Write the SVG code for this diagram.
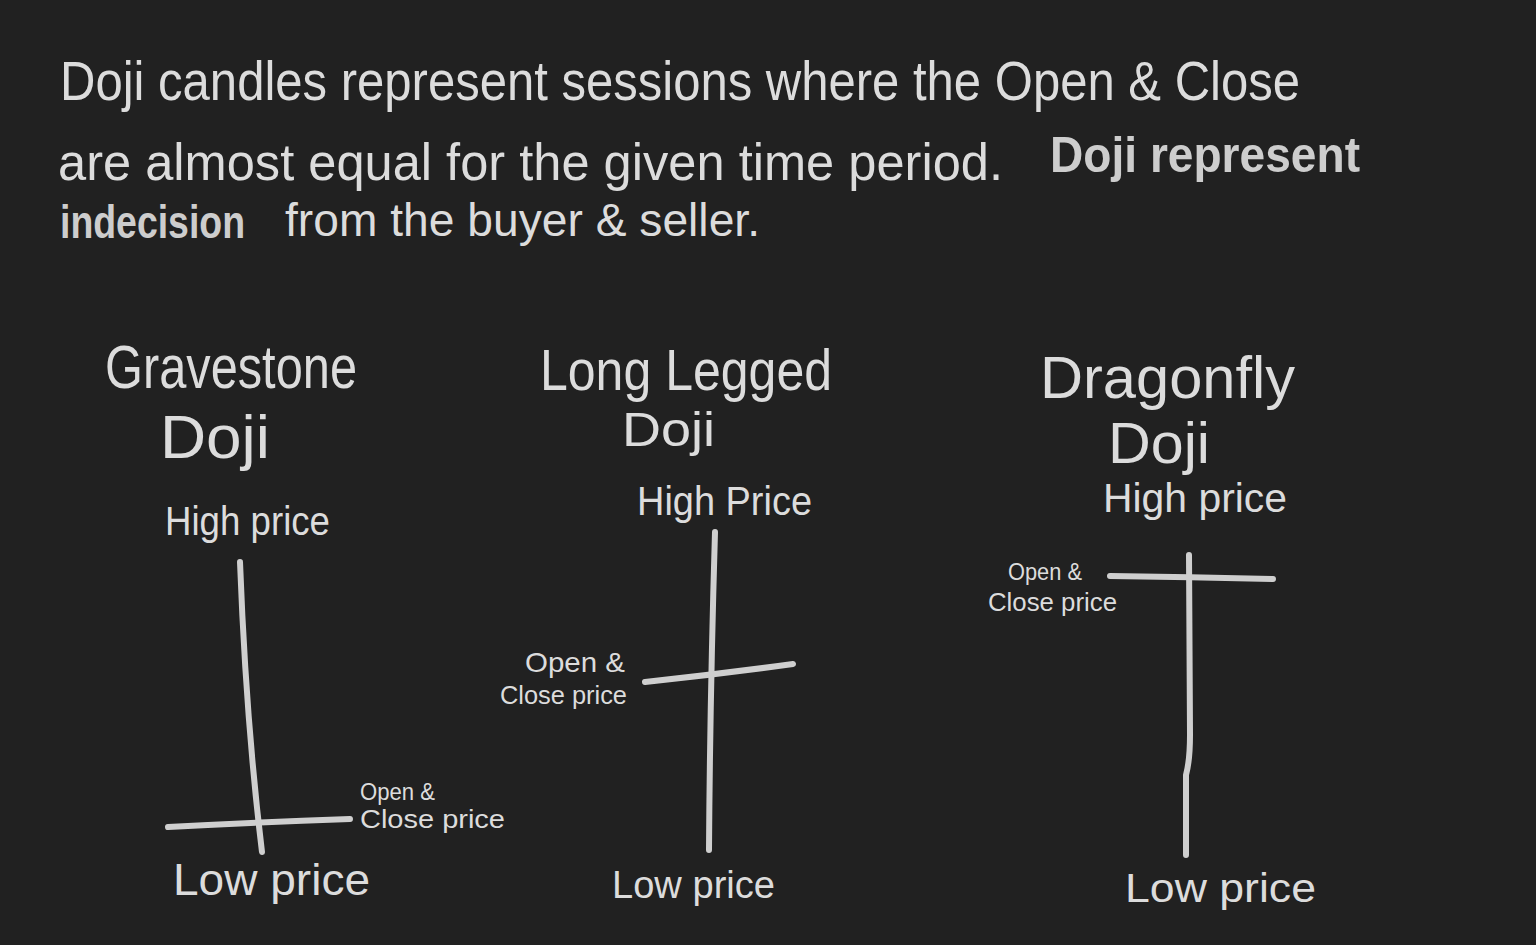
<svg xmlns="http://www.w3.org/2000/svg" width="1536" height="945" viewBox="0 0 1536 945">
<style>
text{font-family:"Liberation Sans","DejaVu Sans",sans-serif;fill:#dcdcdc;}
.b{font-weight:bold;fill:#cdcdcd;}
.ln{stroke:#cfcfcf;stroke-width:6;stroke-linecap:round;stroke-linejoin:round;fill:none;}
</style>
<rect width="1536" height="945" fill="#212121"/>
<g id="intro">
<text x="60" y="100" font-size="56" textLength="1240" lengthAdjust="spacingAndGlyphs">Doji candles represent sessions where the Open &amp; Close</text>
<text x="58" y="180" font-size="52" textLength="945" lengthAdjust="spacingAndGlyphs">are almost equal for the given time period.</text>
<text class="b" x="1050" y="172" font-size="50" textLength="310" lengthAdjust="spacingAndGlyphs">Doji represent</text>
<text class="b" x="60" y="238" font-size="46" textLength="185" lengthAdjust="spacingAndGlyphs">indecision</text>
<text x="285" y="236" font-size="46" textLength="475" lengthAdjust="spacingAndGlyphs">from the buyer &amp; seller.</text>
</g>
<g id="gravestone">
<text x="105" y="388" font-size="62" textLength="252" lengthAdjust="spacingAndGlyphs">Gravestone</text>
<text x="160" y="458" font-size="62" textLength="110" lengthAdjust="spacingAndGlyphs">Doji</text>
<text x="165" y="535" font-size="40" textLength="165" lengthAdjust="spacingAndGlyphs">High price</text>
<text x="173" y="895" font-size="44" textLength="197" lengthAdjust="spacingAndGlyphs">Low price</text>
<text x="360" y="800" font-size="24" textLength="75" lengthAdjust="spacingAndGlyphs">Open &amp;</text>
<text x="360" y="828" font-size="26" textLength="145" lengthAdjust="spacingAndGlyphs">Close price</text>
</g>
<g id="longlegged">
<text x="540" y="390" font-size="58" textLength="292" lengthAdjust="spacingAndGlyphs">Long Legged</text>
<text x="622" y="446" font-size="48" textLength="93" lengthAdjust="spacingAndGlyphs">Doji</text>
<text x="637" y="515" font-size="40" textLength="175" lengthAdjust="spacingAndGlyphs">High Price</text>
<text x="612" y="898" font-size="38" textLength="163" lengthAdjust="spacingAndGlyphs">Low price</text>
<text x="525" y="672" font-size="28" textLength="100" lengthAdjust="spacingAndGlyphs">Open &amp;</text>
<text x="500" y="704" font-size="26" textLength="127" lengthAdjust="spacingAndGlyphs">Close price</text>
</g>
<g id="dragonfly">
<text x="1040" y="398" font-size="60" textLength="255" lengthAdjust="spacingAndGlyphs">Dragonfly</text>
<text x="1108" y="463" font-size="58" textLength="102" lengthAdjust="spacingAndGlyphs">Doji</text>
<text x="1103" y="512" font-size="40" textLength="184" lengthAdjust="spacingAndGlyphs">High price</text>
<text x="1125" y="902" font-size="40" textLength="191" lengthAdjust="spacingAndGlyphs">Low price</text>
<text x="1008" y="580" font-size="24" textLength="74" lengthAdjust="spacingAndGlyphs">Open &amp;</text>
<text x="988" y="611" font-size="26" textLength="129" lengthAdjust="spacingAndGlyphs">Close price</text>
</g>
<g id="connectors">
<path class="ln" d="M240 562 Q246 720 262 852"/>
<path class="ln" d="M168 827 Q260 822 350 819"/>
<path class="ln" d="M715 532 Q710 700 709 850"/>
<path class="ln" d="M645 682 Q720 674 793 664"/>
<path class="ln" d="M1189 555 L1190 735 Q1190 760 1186 775 L1186 855"/>
<path class="ln" d="M1110 576 Q1190 577 1273 579"/>
</g>
</svg>
